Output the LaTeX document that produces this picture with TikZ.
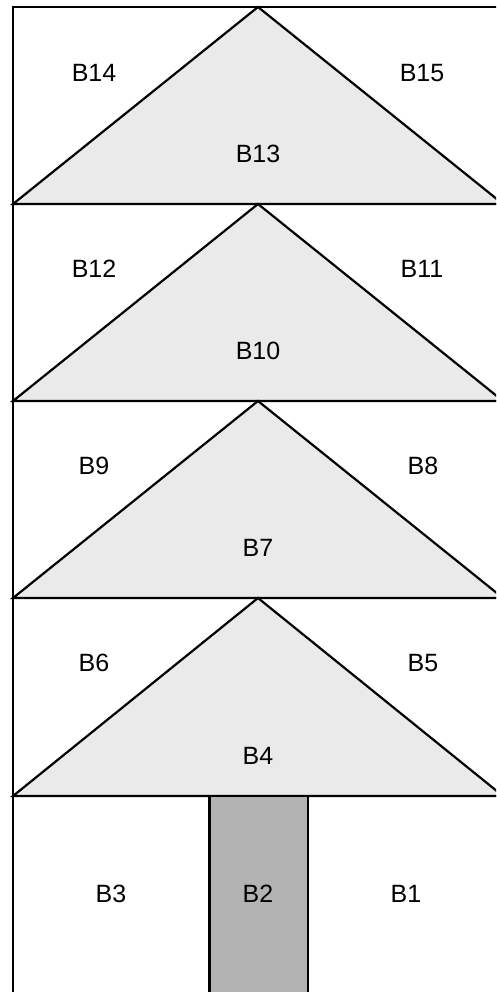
\documentclass[tikz,border=0pt]{standalone}
\usepackage{fontspec}
\setmainfont{Liberation Sans}
\definecolor{trigray}{HTML}{EAEAEA}
\definecolor{trunkgray}{HTML}{B3B3B3}
\begin{document}
\begin{tikzpicture}[x=1pt,y=-1pt,line width=2.2pt,
  lbl/.style={inner sep=0pt,font=\fontsize{25}{30}\selectfont},
  tri/.style={fill=trigray,draw=black,line join=miter},
  trunk/.style={fill=trunkgray,draw=black}]
\useasboundingbox (0,0) rectangle (496,992);
\clip (0,0) rectangle (496,992);
\fill[white] (0,0) rectangle (496,992);
% crown triangles
\foreach \ta/\bb in {7/204,204/401,401/598,598/796}{
  \filldraw[tri] (13,\bb) -- (258,\ta) -- (503,\bb) -- cycle;
}
% trunk
\filldraw[trunk] (209.5,796) rectangle (307.7,996);
% frame and horizontal lines
\draw (13,7) rectangle (503,992.8);
\foreach \yy in {204,401,598,796}{
  \draw (13,\yy) -- (503,\yy);
}
% labels
\node[lbl] (B14) at (94,73) {B14};
\node[lbl] (B15) at (422,73) {B15};
\node[lbl] (B13) at (258,154) {B13};
\node[lbl] (B12) at (94,269) {B12};
\node[lbl] (B11) at (422,269) {B11};
\node[lbl] (B10) at (258,351) {B10};
\node[lbl] (B9) at (94,466) {B9};
\node[lbl] (B8) at (423,466) {B8};
\node[lbl] (B7) at (258,548) {B7};
\node[lbl] (B6) at (94,663) {B6};
\node[lbl] (B5) at (423,663) {B5};
\node[lbl] (B4) at (258,756) {B4};
\node[lbl] (B3) at (111,894) {B3};
\node[lbl] (B2) at (258,894) {B2};
\node[lbl] (B1) at (406,894) {B1};
\end{tikzpicture}
\end{document}
